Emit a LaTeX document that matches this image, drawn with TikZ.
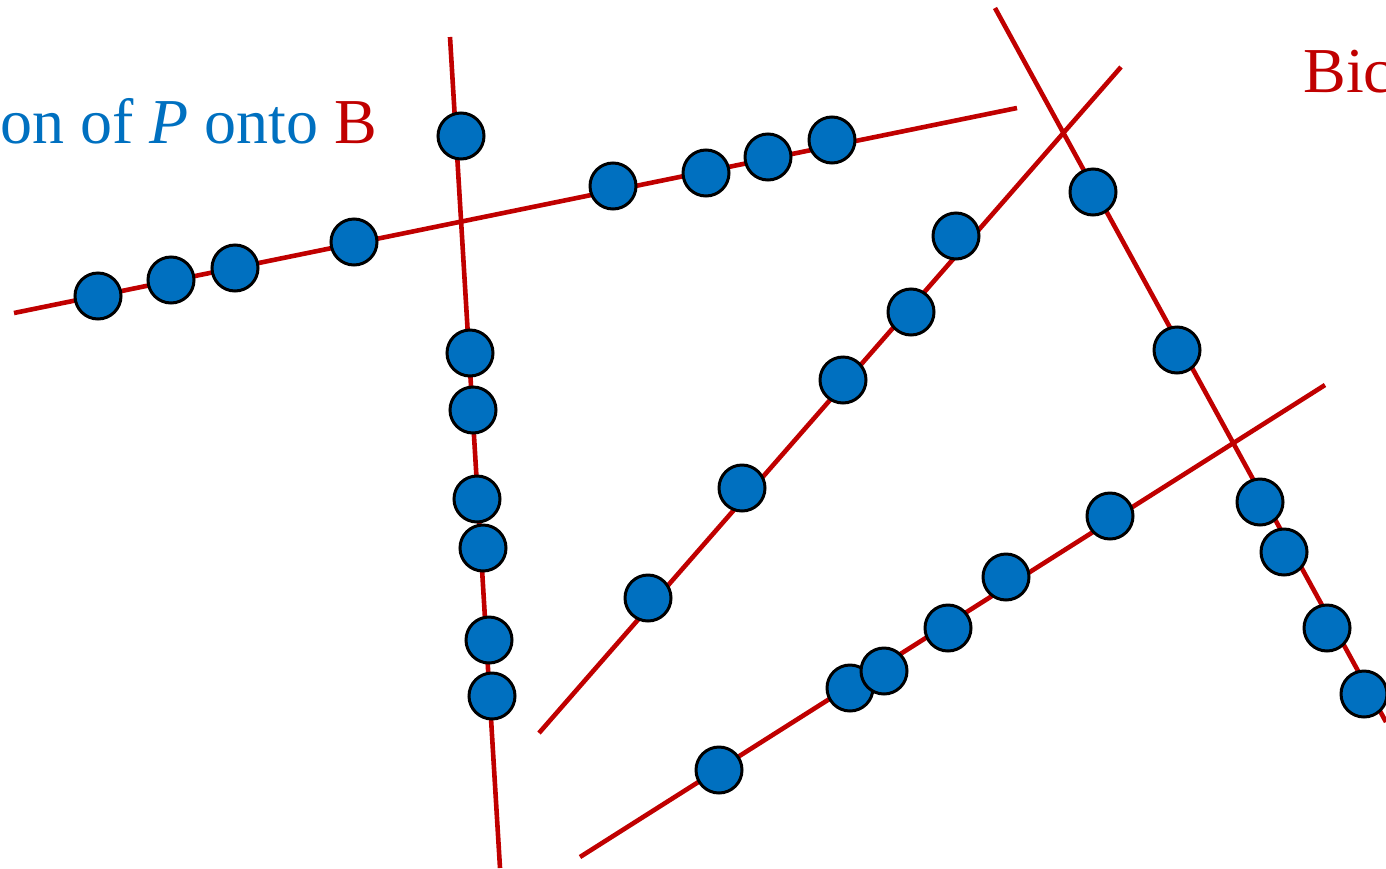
\documentclass[tikz,border=0pt]{standalone}
\usepackage{fontspec}
\setmainfont{Liberation Serif}
\usepackage{xcolor}
\usepackage{tikz}
\definecolor{bred}{HTML}{C00000}
\definecolor{pblue}{HTML}{0070C0}
\tikzset{
  ln/.style   = {draw=bred, line width=2.3pt},
  samp/.style = {circle, draw=black, line width=1.5pt, fill=pblue,
                 minimum size=23pt, inner sep=0pt},
  lbl/.style  = {inner sep=0pt, font=\fontsize{32}{38}\selectfont},
}
\begin{document}
\begin{tikzpicture}[x=0.5pt, y=-0.5pt]
  \useasboundingbox (0,0) rectangle (1386,868);
  \clip (0,0) rectangle (1386,868);
  % end points of the lines
  \coordinate (a0) at (14,313);   \coordinate (a1) at (1017,108);
  \coordinate (b0) at (450,37);   \coordinate (b1) at (500,868);
  \coordinate (c0) at (539,733);  \coordinate (c1) at (1121,67);
  \coordinate (d0) at (995,8);    \coordinate (d1) at (1386,722);
  \coordinate (e0) at (580,857);  \coordinate (e1) at (1325,385);
  \foreach \s in {a,b,c,d,e} \draw[ln] (\s0) -- (\s1);
  % projected points
  \foreach \x/\y [count=\i] in {98/296, 171/280, 235/268, 354/242,
      613/186, 706/173, 768/157, 832/140}
    \node[samp] (pa\i) at (\x,\y) {};
  \foreach \x/\y [count=\i] in {461/136, 470/353, 473/410, 477/499,
      483/548, 489/640, 492/696}
    \node[samp] (pb\i) at (\x,\y) {};
  \foreach \x/\y [count=\i] in {648/598, 742/488, 843/380, 911/312, 956/236}
    \node[samp] (pc\i) at (\x,\y) {};
  \foreach \x/\y [count=\i] in {1093/192, 1177/350, 1260/502, 1284/552,
      1327/628, 1364/694}
    \node[samp] (pd\i) at (\x,\y) {};
  \foreach \x/\y [count=\i] in {719/770, 850/688, 884/671, 948/628,
      1006/577, 1110/516}
    \node[samp] (pe\i) at (\x,\y) {};
  % labels
  \node[lbl, anchor=base west, text=pblue] (proj) at (0,143)
    {on of \textit{P\/} onto \textcolor{bred}{B}};
  \node[lbl, anchor=base west, text=bred] (bic) at (1303,92) {Bic};
\end{tikzpicture}
\end{document}
